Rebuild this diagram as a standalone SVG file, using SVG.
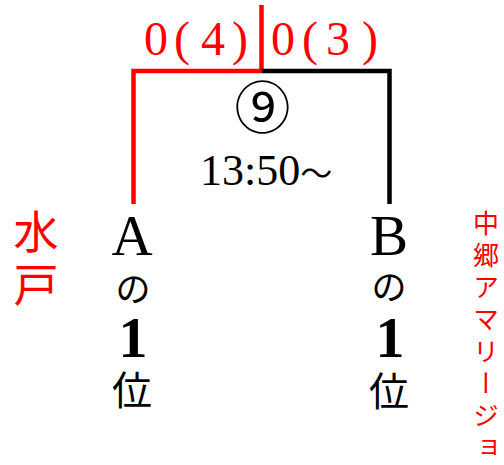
<svg xmlns="http://www.w3.org/2000/svg" width="504" height="465" viewBox="0 0 504 465">
<style>
.ser{font-family:"Liberation Serif","Noto Sans CJK JP",serif}
.jp{font-family:"Noto Sans CJK JP","Liberation Serif",serif}
.red{fill:#ff0000}
.blk{fill:#000000}
.vert{writing-mode:vertical-rl}
.ln{fill:none;stroke-width:4.5;stroke-linecap:butt}
</style>
<rect width="504" height="465" fill="#ffffff"/>
<g id="connectors">
<path class="ln" stroke="#ff0000" d="M261.5,5 V71"/>
<path class="ln" stroke="#ff0000" d="M133.5,204 V71 H261.5"/>
<path class="ln" stroke="#000000" d="M261.5,71 H389.5 V204"/>
</g>
<g id="score-left">
<text class="ser red" font-size="48" text-anchor="middle" y="55"><tspan x="156">0</tspan><tspan x="182">(</tspan><tspan x="213">4</tspan><tspan x="240">)</tspan></text>
</g>
<g id="score-right">
<text class="ser red" font-size="48" text-anchor="middle" y="55"><tspan x="283">0</tspan><tspan x="310">(</tspan><tspan x="338">3</tspan><tspan x="370">)</tspan></text>
</g>
<g id="match">
<text class="jp blk" font-size="56" text-anchor="middle" x="262.5" y="128">⑨</text>
<text class="ser blk" font-size="44" x="200" y="185">13:50<tspan class="jp" font-size="32">～</tspan></text>
</g>
<g id="teamA">
<text class="ser blk" font-size="57" text-anchor="middle" x="132" y="255">A</text>
<text class="jp blk" font-size="35" text-anchor="middle" x="133" y="302">の</text>
<text class="ser blk" font-size="58" font-weight="bold" text-anchor="middle" x="133" y="357">1</text>
<text class="jp blk" font-size="40" text-anchor="middle" x="132" y="405">位</text>
<text class="jp red vert" font-size="45" letter-spacing="8" x="36" y="209">水戸</text>
</g>
<g id="teamB">
<text class="ser blk" font-size="57" text-anchor="middle" x="389" y="255">B</text>
<text class="jp blk" font-size="35" text-anchor="middle" x="389" y="300">の</text>
<text class="ser blk" font-size="58" font-weight="bold" text-anchor="middle" x="390" y="357">1</text>
<text class="jp blk" font-size="40" text-anchor="middle" x="389" y="406">位</text>
<text class="jp red vert" font-size="26" letter-spacing="6" x="486" y="210">中郷アマリージョ</text>
</g>
</svg>
